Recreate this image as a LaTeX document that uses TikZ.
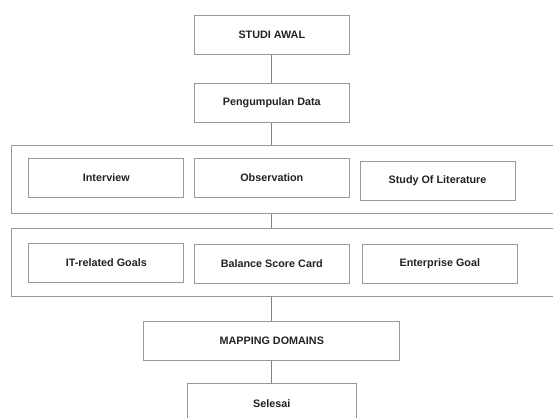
\documentclass[tikz,border=0pt]{standalone}
\usepackage{fontspec}
\setmainfont{Liberation Sans}
\usetikzlibrary{fit}
\definecolor{garisabu}{HTML}{999999}
\definecolor{teksabu}{HTML}{222222}
\tikzset{kotak/.style={draw=garisabu,line width=1pt,rectangle,minimum width=155pt,minimum height=39pt,inner sep=0pt,font=\fontsize{10.8}{13}\selectfont\bfseries,text=teksabu},
grup/.style={draw=garisabu,line width=1pt,inner sep=0pt},
garis/.style={draw=garisabu!85!black,line width=1pt}}

\begin{document}
\begin{tikzpicture}[x=1pt,y=-1pt]
\useasboundingbox (0,0) rectangle (553,417);
\clip (0,0) rectangle (553,417);
\draw (271.8,35) node[kotak] (A) {STUDI AWAL} +(0,68) node[kotak] (D) {Pengumpulan Data};

% metode pengumpulan
\draw (106.3,178) node[kotak] (I1) {Interview} (271.8,178) node[kotak] (I2) {Observation} (437.5,180.7) node[kotak] (I3) {Study Of Literature};
\coordinate (G1a) at (11.7,145);
\coordinate (G1b) at (570,213.3);
\node (G1)[grup,fit={(G1a) (G1b)}]{};

% sumber goal
\draw (106.3,262.8) node[kotak] (J1) {IT-related Goals} (271.8,263.8) node[kotak] (J2) {Balance Score Card} (439.8,263.8) node[kotak] (J3) {Enterprise Goal};
\coordinate (G2a) at (11.7,228.7);
\coordinate (G2b) at (570,296.7);
\node (G2)[grup,fit={(G2a) (G2b)}]{};

\draw (271.8,340.5) node[kotak,minimum width=256.3pt] (M) {MAPPING DOMAINS} +(0,62.7) node[kotak,minimum width=169pt] (S) {Selesai};

\draw[garis] (A)--(D);
\draw[garis] (D)--(D|-G1.north);
\draw[garis] (D|-G1.south)--(D|-G2.north);
\draw[garis] (M|-G2.south)--(M);
\draw[garis] (M)--(S);
\end{tikzpicture}
\end{document}
